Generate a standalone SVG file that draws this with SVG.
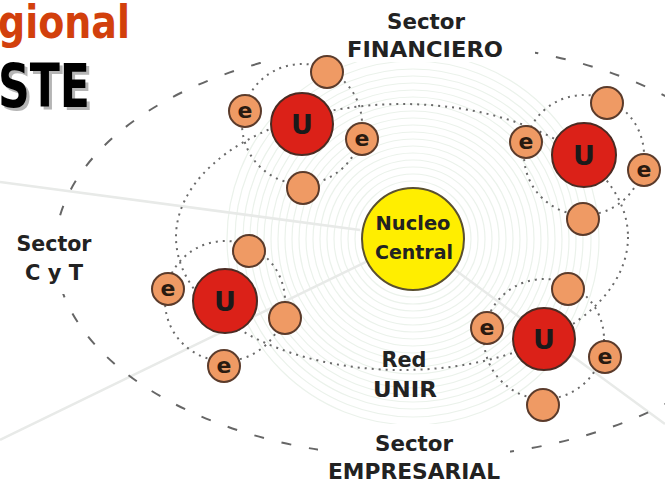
<svg xmlns="http://www.w3.org/2000/svg" width="665" height="482" viewBox="0 0 665 482">
<style>
.ring{fill:none;stroke:#ebf2eb;stroke-width:1.2}
.ray{stroke:#e8eae8;stroke-width:2.5;fill:none}
.dash{fill:none;stroke:#666;stroke-width:2;stroke-dasharray:10 18}
.dot{fill:none;stroke:#6a6a6a;stroke-width:2;stroke-dasharray:2 5}
.u{fill:#db2118;stroke:#4b2a22;stroke-width:2}
.s{fill:#ef9a64;stroke:#5b3b2b;stroke-width:2}
.n{fill:#ffee00;stroke:#5a5030;stroke-width:2}
.bg{fill:#fff}
.t{font-family:"DejaVu Sans","Liberation Sans",sans-serif;font-weight:bold;fill:#222;text-anchor:middle}
.ut{font-size:27px;fill:#1a1a1a}
.et{font-size:22px;fill:#2a1a10}
.lb{font-size:22px}
</style>
<rect width="665" height="482" fill="#fff"/>
<g id="background">
<circle class="ring" cx="413" cy="239" r="58"/><circle class="ring" cx="413" cy="239" r="65"/><circle class="ring" cx="413" cy="239" r="72"/><circle class="ring" cx="413" cy="239" r="79"/><circle class="ring" cx="413" cy="239" r="86"/><circle class="ring" cx="413" cy="239" r="93"/><circle class="ring" cx="413" cy="239" r="100"/><circle class="ring" cx="413" cy="239" r="107"/><circle class="ring" cx="413" cy="239" r="114"/><circle class="ring" cx="413" cy="239" r="121"/><circle class="ring" cx="413" cy="239" r="128"/><circle class="ring" cx="413" cy="239" r="135"/><circle class="ring" cx="413" cy="239" r="142"/><circle class="ring" cx="413" cy="239" r="149"/><circle class="ring" cx="413" cy="239" r="156"/><circle class="ring" cx="413" cy="239" r="163"/><circle class="ring" cx="413" cy="239" r="170"/><circle class="ring" cx="413" cy="239" r="178"/><circle class="ring" cx="413" cy="239" r="186"/>
<line class="ray" x1="413" y1="239" x2="0" y2="440"/>
<line class="ray" x1="360" y1="230" x2="0" y2="182"/>
<line class="ray" x1="413" y1="239" x2="665" y2="424"/>
</g>
<g id="title">
<text x="-2" y="38" font-family="DejaVu Sans, sans-serif" font-weight="bold" font-size="46" fill="#d2400c" textLength="132" lengthAdjust="spacingAndGlyphs">gional</text>
<text x="1" y="110" font-family="DejaVu Sans, sans-serif" font-weight="bold" font-size="60" fill="#b5b5b5" textLength="92" lengthAdjust="spacingAndGlyphs">STE</text>
<text x="-2" y="107" font-family="DejaVu Sans, sans-serif" font-weight="bold" font-size="60" fill="#000" textLength="92" lengthAdjust="spacingAndGlyphs">STE</text>
</g>
<g id="connectors">
<ellipse class="dash" cx="420" cy="250" rx="365" ry="208"/>
<ellipse class="dot" cx="402" cy="237" rx="226" ry="133"/>
<circle class="dot" cx="302" cy="124" r="60"/>
<circle class="dot" cx="584" cy="155" r="60"/>
<circle class="dot" cx="225" cy="301" r="60"/>
<circle class="dot" cx="544" cy="339" r="60"/>
</g>
<g id="labels">
<rect class="bg" x="250" y="0" width="285" height="62"/>
<rect class="bg" x="10" y="222" width="90" height="72"/>
<rect class="bg" x="318" y="424" width="192" height="58"/>
<text class="t lb" x="426" y="29" textLength="78" lengthAdjust="spacingAndGlyphs">Sector</text>
<text class="t lb" x="425" y="57" textLength="156" lengthAdjust="spacingAndGlyphs">FINANCIERO</text>
<text class="t lb" x="54" y="251" textLength="75" lengthAdjust="spacingAndGlyphs" font-size="21">Sector</text>
<text class="t lb" x="54" y="280" textLength="58" lengthAdjust="spacingAndGlyphs">C y T</text>
<text class="t lb" x="404" y="367" textLength="45" lengthAdjust="spacingAndGlyphs">Red</text>
<text class="t lb" x="405" y="397" textLength="64" lengthAdjust="spacingAndGlyphs">UNIR</text>
<text class="t lb" x="414" y="451" textLength="78" lengthAdjust="spacingAndGlyphs">Sector</text>
<text class="t lb" x="414" y="479" textLength="172" lengthAdjust="spacingAndGlyphs">EMPRESARIAL</text>
</g>
<g id="nucleo">
<circle class="n" cx="413" cy="239" r="51"/>
<text class="t" x="413" y="230" font-size="19" textLength="75" lengthAdjust="spacingAndGlyphs">Nucleo</text>
<text class="t" x="414" y="259" font-size="19" textLength="78" lengthAdjust="spacingAndGlyphs">Central</text>
</g>
<g id="cluster-tl">
<circle class="s" cx="327" cy="72" r="16"/>
<circle class="s" cx="245" cy="111" r="16"/><text class="t et" x="245" y="118">e</text>
<circle class="s" cx="362" cy="139" r="16"/><text class="t et" x="362" y="146">e</text>
<circle class="s" cx="303" cy="188" r="16"/>
<circle class="u" cx="302" cy="124" r="31"/><text class="t ut" x="302" y="134">U</text>
</g>
<g id="cluster-tr">
<circle class="s" cx="607" cy="103" r="16"/>
<circle class="s" cx="526" cy="142" r="16"/><text class="t et" x="526" y="149">e</text>
<circle class="s" cx="644" cy="170" r="16"/><text class="t et" x="644" y="177">e</text>
<circle class="s" cx="583" cy="219" r="16"/>
<circle class="u" cx="584" cy="155" r="32"/><text class="t ut" x="584" y="165">U</text>
</g>
<g id="cluster-bl">
<circle class="s" cx="249" cy="251" r="16"/>
<circle class="s" cx="168" cy="289" r="16"/><text class="t et" x="168" y="296">e</text>
<circle class="s" cx="285" cy="318" r="16"/>
<circle class="s" cx="224" cy="366" r="16"/><text class="t et" x="224" y="373">e</text>
<circle class="u" cx="225" cy="301" r="32"/><text class="t ut" x="225" y="311">U</text>
</g>
<g id="cluster-br">
<circle class="s" cx="568" cy="289" r="16"/>
<circle class="s" cx="487" cy="328" r="16"/><text class="t et" x="487" y="335">e</text>
<circle class="s" cx="605" cy="357" r="16"/><text class="t et" x="605" y="364">e</text>
<circle class="s" cx="543" cy="405" r="16"/>
<circle class="u" cx="544" cy="339" r="31"/><text class="t ut" x="544" y="349">U</text>
</g>
</svg>
